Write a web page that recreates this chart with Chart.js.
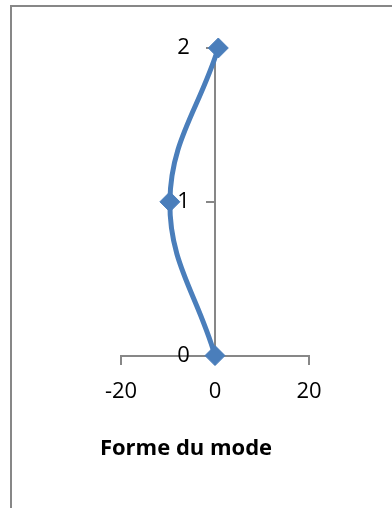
<!DOCTYPE html>
<html><head><meta charset="utf-8">
<script src="https://cdn.jsdelivr.net/npm/chart.js@4"></script>
<style>
html,body{margin:0;padding:0;background:#fff;overflow:hidden;width:392px;height:508px;}
#frame{position:absolute;left:10px;top:5px;width:500px;height:600px;border:2px solid #878787;box-sizing:border-box;}
#wrap{position:absolute;left:0;top:0;width:392px;height:508px;}
</style></head>
<body>
<div id="frame"></div>
<div id="wrap"><canvas id="c" width="392" height="508"></canvas></div>
<script>
const modeX = [0, -9.6, 0.7];
const modeY = [0, 1, 2];
const xTicks = [-20, 0, 20];
const yTicks = [0, 1, 2];
const titleText = 'Forme du mode';

const pts = modeX.map((x, i) => ({x: x, y: modeY[i]}));
const gray = '#878787';
const blue = '#4a7ebb';
const tickFont = {family: 'Open Sans', size: 22};

new Chart(document.getElementById('c'), {
  type: 'scatter',
  data: {datasets: [{
    data: pts,
    showLine: true,
    tension: 0.4,
    borderColor: blue,
    borderWidth: 5,
    backgroundColor: blue,
    pointStyle: 'rectRot',
    pointRadius: 10,
    pointBorderWidth: 1,
    pointBorderColor: blue,
    pointBackgroundColor: blue,
    clip: false
  }]},
  options: {
    responsive: false,
    animation: false,
    devicePixelRatio: 1,
    layout: {padding: {left: 63, right: 83, top: 48, bottom: 0}},
    plugins: {
      legend: {display: false},
      tooltip: {enabled: false},
      title: {
        display: true,
        position: 'bottom',
        text: titleText,
        color: '#000',
        font: {family: 'Open Sans', size: 22, weight: 'bold'},
        padding: {top: 80, bottom: 46}
      }
    },
    scales: {
      x: {
        type: 'linear',
        position: {y: 0},
        min: -20, max: 20,
        afterFit: s => { s.height = 0; },
        afterBuildTicks: s => { s.ticks = xTicks.map(v => ({value: v})); },
        ticks: {font: tickFont, color: '#000', padding: 15, autoSkip: false, maxRotation: 0},
        grid: {drawOnChartArea: false, drawTicks: true, tickLength: 8, color: gray, lineWidth: 2},
        border: {display: true, color: gray, width: 2}
      },
      y: {
        type: 'linear',
        position: {x: 0},
        min: 0, max: 2,
        afterFit: s => { s.width = 0; },
        afterBuildTicks: s => { s.ticks = yTicks.map(v => ({value: v})); },
        ticks: {
          font: tickFont, color: '#000', autoSkip: false,
          callback: v => String(v) + '\u2007\u2007'
        },
        grid: {drawOnChartArea: false, drawTicks: true, tickLength: 8, color: gray, lineWidth: 2},
        border: {display: true, color: gray, width: 2}
      },
      spacer: {
        type: 'linear',
        position: 'left',
        display: true,
        afterFit: s => { s.width = 58; },
        ticks: {display: false},
        grid: {display: false},
        border: {display: false}
      }
    }
  }
});
</script>
</body></html>
